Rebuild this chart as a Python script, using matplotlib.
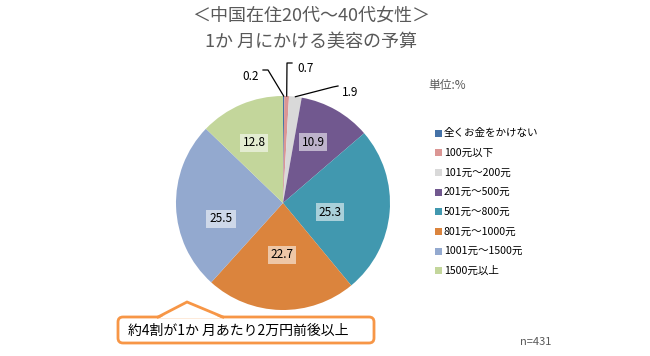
import numpy as np
import matplotlib
matplotlib.use("Agg")
import matplotlib.pyplot as plt
from matplotlib.patches import FancyBboxPatch, Polygon, Rectangle

plt.rcParams['font.family'] = ['Noto Sans CJK JP', 'DejaVu Sans']

# data
categories = ["全くお金をかけない", "100元以下", "101元～200元", "201元～500元",
              "501元～800元", "801元～1000元", "1001元～1500元", "1500元以上"]
values = [0.2, 0.7, 1.9, 10.9, 25.3, 22.7, 25.5, 12.8]
colors = ["#4572A7", "#DB9694", "#D9D9D9", "#71588F",
          "#4198AF", "#DB843D", "#93A9CF", "#C3D69B"]
title_lines = ["＜中国在住20代～40代女性＞", "1か 月にかける美容の予算"]
note_text = "約4割が1か 月あたり2万円前後以上"
n_text = "n=431"
unit_text = "単位:%"

W, H = 650, 356
fig = plt.figure(figsize=(W / 100, H / 100), dpi=100)

# pie placed by pixel centre / radius
cx, cy, R = 283, 203, 107
ax = fig.add_axes([(cx - R) / W, (H - cy - R) / H, 2 * R / W, 2 * R / H])
wedges, _ = ax.pie(values, colors=colors, startangle=90, counterclock=False,
                   radius=1, wedgeprops=dict(linewidth=0))
ax.set_xlim(-1, 1)
ax.set_ylim(-1, 1)
ax.set_aspect("equal")
ax.axis("off")

def px(x, y):
    # pixel -> pie data coords
    return (x - cx) / R, (cy - y) / R

# labels inside the big slices (pixel positions of label centres)
inside_pos = {3: (313, 142), 4: (330, 212), 5: (282, 255), 6: (221, 219), 7: (254, 143)}
for i, (lx, ly) in inside_pos.items():
    x, y = px(lx, ly)
    ax.text(x, y, f"{values[i]:.1f}", ha="center", va="center", fontsize=8.5,
            color="black",
            bbox=dict(boxstyle="square,pad=0.25", fc="white", ec="none", alpha=0.55))

# small slices: leader lines with elbow
outside = {
    0: dict(elbow=(268, 70), end=(263, 70), text=(259, 77), ha="right"),
    1: dict(elbow=(287, 63), end=(292, 63), text=(297, 69), ha="left"),
    2: dict(elbow=(333, 87), end=(338, 86), text=(342, 92), ha="left"),
}
for i, o in outside.items():
    w = wedges[i]
    mid = np.deg2rad((w.theta1 + w.theta2) / 2)
    sx, sy = np.cos(mid), np.sin(mid)
    ex, ey = px(*o["elbow"])
    fx, fy = px(*o["end"])
    ax.plot([sx, ex, fx], [sy, ey, fy], color="black", lw=0.9, clip_on=False)
    tx, ty = px(*o["text"])
    ax.text(tx, ty, f"{values[i]:.1f}", ha=o["ha"], va="center", fontsize=8.5,
            color="black")

# overlay in pixel coords for the rest
ov = fig.add_axes([0, 0, 1, 1], zorder=3)
ov.set_xlim(0, W)
ov.set_ylim(H, 0)
ov.axis("off")
ov.patch.set_alpha(0)

ov.text(311, 16, title_lines[0], ha="center", va="center", fontsize=13, color="#595959")
ov.text(311, 42, title_lines[1], ha="center", va="center", fontsize=13, color="#595959")

ov.text(428, 85, unit_text, ha="left", va="center", fontsize=8.5, color="#595959")

# legend
for i, (lab, c) in enumerate(zip(categories, colors)):
    y = 133 + i * 19.7
    ov.add_patch(Rectangle((435, y - 3.5), 7, 7, fc=c, ec="none"))
    ov.text(444, y, lab, ha="left", va="center", fontsize=7.6, color="black")

# callout box
orange = "#F79646"
ov.add_patch(FancyBboxPatch((118, 317), 256, 26, boxstyle="round,pad=0,rounding_size=5",
                            fc="white", ec=orange, lw=2))
ov.add_patch(Polygon([(159, 318.5), (187, 302), (222, 318.5)], closed=True,
                     fc="white", ec="none", zorder=3))
ov.plot([158, 187, 223], [317, 302, 317], color=orange, lw=2, solid_joinstyle="miter",
        zorder=4)
ov.text(128, 331, note_text, ha="left", va="center", fontsize=10, color="black")

ov.text(520, 342, n_text, ha="left", va="center", fontsize=8, color="#595959")

fig.savefig("out.png", dpi=100)
